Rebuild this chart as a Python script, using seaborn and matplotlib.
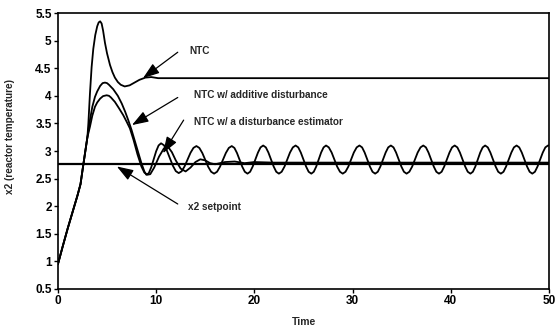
import matplotlib
matplotlib.use("Agg")
import matplotlib.pyplot as plt
import seaborn as sns
import pandas as pd

# Shared start-up transient (all controllers)
t_rise = [0.0, 0.5, 1.0, 1.5, 2.0, 2.3, 2.5, 2.75, 3.0]
x_rise = [0.95, 1.28, 1.6, 1.9, 2.2, 2.4, 2.65, 2.95, 3.25]

# NTC
t_ntc = [3.1, 3.26, 3.43, 3.6, 3.8, 4.0, 4.15, 4.3, 4.45, 4.6, 4.79, 5.0, 5.3, 5.55,
         5.8, 6.1, 6.4, 6.8, 7.3, 7.8, 8.3, 8.9, 9.5, 10.2, 11.0, 15.0, 25.0, 35.0, 50.0]
x_ntc = [3.5, 4.04, 4.52, 4.85, 5.1, 5.26, 5.33, 5.35, 5.31, 5.18, 4.96, 4.77, 4.56, 4.43,
         4.33, 4.25, 4.2, 4.17, 4.19, 4.24, 4.29, 4.33, 4.34, 4.32, 4.32, 4.32, 4.32, 4.32, 4.32]

# NTC with additive disturbance
t_add = [3.26, 3.5, 3.77, 4.0, 4.3, 4.55, 4.79, 5.0, 5.2, 5.63, 6.1, 6.5, 6.85, 7.16,
         7.5, 8.0, 8.5, 8.8, 9.0,
         9.25, 9.5, 9.75, 10.0, 10.25, 10.5,
         10.8, 11.1, 11.4, 11.7, 12.0, 12.3,
         12.6, 12.9, 13.2, 13.5, 13.8, 14.1,
         14.4, 14.7, 15.0, 15.3, 15.6, 15.9,
         16.2, 16.5, 16.8, 17.1, 17.4, 17.7,
         17.97, 18.23, 18.5, 18.77, 19.03, 19.3,
         19.57, 19.83, 20.1, 20.37, 20.63, 20.9,
         21.17, 21.43, 21.7, 21.97, 22.23, 22.5,
         22.78, 23.07, 23.35, 23.63, 23.92, 24.2,
         24.47, 24.73, 25.0, 25.27, 25.53, 25.8,
         26.05, 26.3, 26.55, 26.8, 27.05, 27.3,
         27.58, 27.87, 28.15, 28.43, 28.72, 29.0,
         29.28, 29.57, 29.85, 30.13, 30.42, 30.7,
         30.97, 31.23, 31.5, 31.77, 32.03, 32.3,
         32.57, 32.83, 33.1, 33.37, 33.63, 33.9,
         34.17, 34.43, 34.7, 34.97, 35.23, 35.5,
         35.78, 36.07, 36.35, 36.63, 36.92, 37.2,
         37.47, 37.73, 38.0, 38.27, 38.53, 38.8,
         39.07, 39.33, 39.6, 39.87, 40.13, 40.4,
         40.67, 40.93, 41.2, 41.47, 41.73, 42.0,
         42.25, 42.5, 42.75, 43.0, 43.25, 43.5,
         43.77, 44.03, 44.3, 44.57, 44.83, 45.1,
         45.37, 45.63, 45.9, 46.17, 46.43, 46.7,
         46.97, 47.23, 47.5, 47.77, 48.03, 48.3,
         48.57, 48.83, 49.1, 49.37, 49.63, 49.9, 50.0]
x_add = [3.56, 3.8, 3.98, 4.08, 4.18, 4.23, 4.24, 4.23, 4.2, 4.12, 4.0, 3.86, 3.71, 3.56,
         3.38, 3.08, 2.78, 2.63, 2.57,
         2.599, 2.705, 2.85, 2.995, 3.101, 3.14,
         3.104, 3.005, 2.87, 2.735, 2.636, 2.60,
         2.633, 2.723, 2.845, 2.968, 3.057, 3.09,
         3.056, 2.965, 2.84, 2.715, 2.624, 2.59,
         2.624, 2.715, 2.84, 2.965, 3.056, 3.09,
         3.056, 2.965, 2.84, 2.715, 2.624, 2.59,
         2.624, 2.718, 2.845, 2.973, 3.066, 3.10,
         3.066, 2.973, 2.845, 2.718, 2.624, 2.59,
         2.624, 2.718, 2.845, 2.973, 3.066, 3.10,
         3.066, 2.973, 2.845, 2.718, 2.624, 2.59,
         2.624, 2.718, 2.845, 2.973, 3.066, 3.10,
         3.066, 2.973, 2.845, 2.718, 2.624, 2.59,
         2.624, 2.718, 2.845, 2.973, 3.066, 3.10,
         3.066, 2.973, 2.845, 2.718, 2.624, 2.59,
         2.624, 2.718, 2.845, 2.973, 3.066, 3.10,
         3.066, 2.973, 2.845, 2.718, 2.624, 2.59,
         2.624, 2.718, 2.845, 2.973, 3.066, 3.10,
         3.066, 2.973, 2.845, 2.718, 2.624, 2.59,
         2.624, 2.718, 2.845, 2.973, 3.066, 3.10,
         3.066, 2.973, 2.845, 2.718, 2.624, 2.59,
         2.624, 2.718, 2.845, 2.973, 3.066, 3.10,
         3.066, 2.973, 2.845, 2.718, 2.624, 2.59,
         2.624, 2.718, 2.845, 2.973, 3.066, 3.10,
         3.066, 2.973, 2.845, 2.718, 2.624, 2.59,
         2.624, 2.718, 2.845, 2.973, 3.066, 3.10, 3.10]

# NTC with a disturbance estimator
t_est = [3.26, 3.5, 3.77, 4.0, 4.3, 4.6, 4.96, 5.2, 5.4, 5.8, 6.2, 6.65, 7.0, 7.33,
         7.7, 8.1, 8.5, 8.8, 9.1, 9.4, 9.8, 10.3, 10.8, 11.2, 11.6, 12.0, 12.5, 13.0,
         13.5, 14.0, 14.5, 15.0, 15.5, 16.0, 17.0, 18.0, 19.0, 20.0, 22.0, 25.0, 30.0,
         40.0, 50.0]
x_est = [3.44, 3.64, 3.8, 3.88, 3.95, 3.995, 4.01, 4.0, 3.97, 3.89, 3.78, 3.65, 3.53, 3.41,
         3.2, 2.94, 2.72, 2.61, 2.57, 2.58, 2.7, 2.9, 3.05, 3.08, 2.98, 2.83, 2.68, 2.63,
         2.7, 2.8, 2.85, 2.83, 2.78, 2.76, 2.8, 2.81, 2.78, 2.8, 2.79, 2.79, 2.79,
         2.79, 2.79]

setpoint = 2.77
t_span = [0.0, 50.0]

x_ticks = [0, 10, 20, 30, 40, 50]
y_ticks = [0.5, 1, 1.5, 2, 2.5, 3, 3.5, 4, 4.5, 5, 5.5]
y_ticklabels = ["0.5", "1", "1.5", "2", "2.5", "3", "3.5", "4", "4.5", "5", "5.5"]

sns.set_style("ticks")
plt.rcParams["font.family"] = ["Liberation Sans", "DejaVu Sans"]

fig = plt.figure(figsize=(5.57, 3.26), dpi=100)
ax = fig.add_axes([0.104, 0.1135, 0.8816, 0.8465])

def series(t_tail, x_tail):
    return pd.DataFrame({"t": t_rise + t_tail, "x": x_rise + x_tail})

line_kw = dict(color="black", linewidth=1.3, estimator=None, sort=False, ax=ax)
sns.lineplot(data=series(t_ntc, x_ntc), x="t", y="x", **line_kw)
sns.lineplot(data=series(t_add, x_add), x="t", y="x", **line_kw)
sns.lineplot(data=series(t_est, x_est), x="t", y="x", **line_kw)
sns.lineplot(x=t_span, y=[setpoint, setpoint], color="black", linewidth=1.6, ax=ax)

ax.set_xlim(0, 50)
ax.set_ylim(0.5, 5.5)
ax.set_xticks(x_ticks)
ax.set_yticks(y_ticks)
ax.set_yticklabels(y_ticklabels)
ax.tick_params(direction="out", length=3, width=1, labelsize=8.5, colors="black", pad=1.5)
for lbl in ax.get_xticklabels() + ax.get_yticklabels():
    lbl.set_fontweight("bold")
for sp in ax.spines.values():
    sp.set_visible(True)
    sp.set_color("black")
    sp.set_linewidth(1.2)

ax.set_xlabel("Time", fontsize=7.5, fontweight="bold")
ax.xaxis.set_label_coords(0.502, -0.10)
ax.set_ylabel("x2 (reactor temperature)", fontsize=7.2, fontweight="bold")
ax.yaxis.set_label_coords(-0.088, 0.554)

arrow = dict(arrowstyle="-|>,head_length=1.0,head_width=0.35", color="black",
             lw=0.9, shrinkA=0, shrinkB=0)
txt_kw = dict(fontsize=7.2, fontweight="bold", va="center", ha="left")
ax.annotate("", xy=(8.66, 4.32), xytext=(12.2, 4.79), arrowprops=arrow)
ax.text(13.4, 4.82, "NTC", **txt_kw)
ax.annotate("", xy=(7.54, 3.47), xytext=(12.2, 3.97), arrowprops=arrow)
ax.text(13.9, 4.01, "NTC w/ additive disturbance", **txt_kw)
ax.annotate("", xy=(10.7, 2.96), xytext=(12.8, 3.56), arrowprops=arrow)
ax.text(13.9, 3.52, "NTC w/ a disturbance estimator", **txt_kw)
ax.annotate("", xy=(6.0, 2.72), xytext=(12.2, 2.04), arrowprops=arrow)
ax.text(13.2, 1.98, "x2 setpoint", **txt_kw)

fig.savefig("out.png", dpi=100)
